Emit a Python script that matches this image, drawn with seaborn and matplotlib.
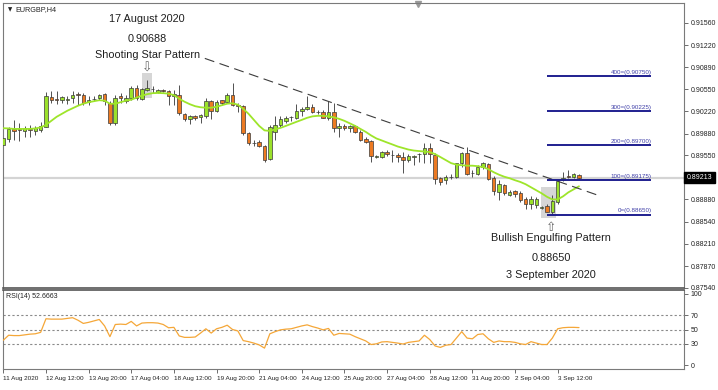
import numpy as np
import pandas as pd
import seaborn as sns
import matplotlib
matplotlib.use("Agg")
import matplotlib.pyplot as plt
from matplotlib.patches import Rectangle
from matplotlib.transforms import blended_transform_factory

# ---------------- data ----------------
opens = [0.89707, 0.89794, 0.89956, 0.89951, 0.89926, 0.89951, 0.89926, 0.89936, 0.89987, 0.90436,
         0.90403, 0.90384, 0.90395, 0.90426, 0.90476, 0.90471, 0.90354, 0.90406, 0.90426, 0.90476,
         0.90345, 0.90039, 0.90456, 0.90375, 0.90415, 0.90579, 0.90406, 0.90548, 0.90559, 0.90507,
         0.90538, 0.90522, 0.90445, 0.90471, 0.90176, 0.90100, 0.90150, 0.90130, 0.90140, 0.90369,
         0.90216, 0.90384, 0.90354, 0.90471, 0.90319, 0.90293, 0.89886, 0.89733, 0.89753, 0.89692,
         0.89488, 0.89910, 0.90013, 0.90074, 0.90130, 0.90115, 0.90216, 0.90253, 0.90283, 0.90206,
         0.90206, 0.90115, 0.90206, 0.89962, 0.90002, 0.89962, 0.89997, 0.89910, 0.89794, 0.89773,
         0.89528, 0.89528, 0.89605, 0.89554, 0.89554, 0.89528, 0.89478, 0.89528, 0.89569, 0.89569,
         0.89666, 0.89554, 0.89207, 0.89172, 0.89222, 0.89228, 0.89427, 0.89580, 0.89284, 0.89274,
         0.89376, 0.89416, 0.89213, 0.88993, 0.89095, 0.88943, 0.89008, 0.88978, 0.88881, 0.88805,
         0.88790, 0.88754, 0.88774, 0.88687, 0.88840, 0.89172, 0.89233, 0.89222, 0.89259]
highs = [0.89834, 0.89987, 0.90089, 0.90039, 0.90002, 0.90013, 0.89997, 0.90059, 0.90513, 0.90522,
         0.90522, 0.90445, 0.90445, 0.90522, 0.90507, 0.90497, 0.90445, 0.90456, 0.90487, 0.90497,
         0.90369, 0.90471, 0.90497, 0.90461, 0.90598, 0.90624, 0.90574, 0.90688, 0.90609, 0.90559,
         0.90559, 0.90548, 0.90548, 0.90624, 0.90191, 0.90166, 0.90166, 0.90181, 0.90421, 0.90395,
         0.90395, 0.90395, 0.90497, 0.90655, 0.90345, 0.90319, 0.89910, 0.89783, 0.89783, 0.89707,
         0.90013, 0.90150, 0.90140, 0.90140, 0.90150, 0.90334, 0.90277, 0.90445, 0.90329, 0.90231,
         0.90242, 0.90369, 0.90345, 0.90039, 0.90028, 0.90013, 0.90013, 0.89936, 0.89834, 0.89783,
         0.89554, 0.89615, 0.89630, 0.89630, 0.89580, 0.89605, 0.89569, 0.89554, 0.89589, 0.89733,
         0.89733, 0.89580, 0.89222, 0.89248, 0.89264, 0.89432, 0.89605, 0.89681, 0.89325, 0.89401,
         0.89452, 0.89437, 0.89233, 0.89172, 0.89121, 0.89019, 0.89029, 0.89008, 0.88917, 0.88927,
         0.88917, 0.88774, 0.88815, 0.88943, 0.89175, 0.89299, 0.89325, 0.89284, 0.89274]
lows = [0.89681, 0.89757, 0.89783, 0.89768, 0.89824, 0.89824, 0.89860, 0.89910, 0.89982, 0.90345,
        0.90329, 0.90345, 0.90334, 0.90345, 0.90319, 0.90319, 0.90319, 0.90369, 0.90384, 0.90319,
        0.90013, 0.90013, 0.90345, 0.90345, 0.90395, 0.90395, 0.90395, 0.90522, 0.90497, 0.90497,
        0.90507, 0.90319, 0.90319, 0.90166, 0.90078, 0.90028, 0.90089, 0.90039, 0.90115, 0.90100,
        0.90201, 0.90319, 0.90345, 0.90293, 0.90211, 0.89860, 0.89707, 0.89692, 0.89681, 0.89452,
        0.89478, 0.89783, 0.89987, 0.90039, 0.90078, 0.90100, 0.90140, 0.90242, 0.90191, 0.90181,
        0.90115, 0.90089, 0.89910, 0.89834, 0.89936, 0.89910, 0.89886, 0.89773, 0.89733, 0.89452,
        0.89503, 0.89503, 0.89539, 0.89452, 0.89452, 0.89283, 0.89452, 0.89401, 0.89452, 0.89437,
        0.89427, 0.89121, 0.89095, 0.89121, 0.89197, 0.89202, 0.89376, 0.89248, 0.89222, 0.89248,
        0.89350, 0.89172, 0.88943, 0.88877, 0.88943, 0.88927, 0.88917, 0.88840, 0.88739, 0.88739,
        0.88754, 0.88733, 0.88683, 0.88650, 0.88815, 0.89161, 0.89213, 0.89213, 0.89197]
closes = [0.89809, 0.89951, 0.89921, 0.89931, 0.89962, 0.89940, 0.89962, 0.89997, 0.90445, 0.90390,
          0.90395, 0.90430, 0.90400, 0.90471, 0.90471, 0.90345, 0.90395, 0.90410, 0.90467, 0.90369,
          0.90039, 0.90421, 0.90421, 0.90421, 0.90579, 0.90421, 0.90559, 0.90571, 0.90563, 0.90538,
          0.90533, 0.90445, 0.90482, 0.90191, 0.90100, 0.90140, 0.90115, 0.90166, 0.90369, 0.90216,
          0.90354, 0.90345, 0.90471, 0.90319, 0.90293, 0.89886, 0.89733, 0.89738, 0.89692, 0.89478,
          0.89987, 0.90013, 0.90100, 0.90115, 0.90125, 0.90216, 0.90253, 0.90283, 0.90211, 0.90211,
          0.90124, 0.90206, 0.89962, 0.90002, 0.89971, 0.89997, 0.89901, 0.89783, 0.89757, 0.89539,
          0.89534, 0.89595, 0.89569, 0.89549, 0.89519, 0.89478, 0.89544, 0.89534, 0.89574, 0.89666,
          0.89569, 0.89197, 0.89146, 0.89222, 0.89228, 0.89427, 0.89580, 0.89274, 0.89279, 0.89376,
          0.89427, 0.89197, 0.89008, 0.89111, 0.88978, 0.88993, 0.88958, 0.88866, 0.88805, 0.88892,
          0.88892, 0.88759, 0.88687, 0.88855, 0.89164, 0.89213, 0.89228, 0.89264, 0.89213]
ma_values = [0.89962, 0.89959, 0.89951, 0.89951, 0.89951, 0.89951, 0.89959, 0.89974, 0.90013, 0.90074,
             0.90135, 0.90181, 0.90227, 0.90265, 0.90303, 0.90334, 0.90357, 0.90372, 0.90387, 0.90380,
             0.90334, 0.90334, 0.90357, 0.90380, 0.90395, 0.90426, 0.90456, 0.90479, 0.90494, 0.90497,
             0.90494, 0.90487, 0.90464, 0.90410, 0.90364, 0.90326, 0.90296, 0.90280, 0.90273, 0.90273,
             0.90288, 0.90311, 0.90334, 0.90341, 0.90319, 0.90257, 0.90181, 0.90089, 0.89997, 0.89929,
             0.89921, 0.89944, 0.89967, 0.89997, 0.90028, 0.90059, 0.90089, 0.90120, 0.90142, 0.90150,
             0.90150, 0.90142, 0.90127, 0.90104, 0.90074, 0.90036, 0.89997, 0.89951, 0.89906, 0.89852,
             0.89806, 0.89776, 0.89745, 0.89715, 0.89684, 0.89661, 0.89638, 0.89623, 0.89615, 0.89608,
             0.89600, 0.89569, 0.89524, 0.89478, 0.89432, 0.89409, 0.89401, 0.89393, 0.89393, 0.89386,
             0.89371, 0.89340, 0.89294, 0.89256, 0.89225, 0.89202, 0.89172, 0.89146, 0.89111, 0.89065,
             0.89019, 0.88973, 0.88920, 0.88881, 0.88881, 0.88927, 0.88988, 0.89034, 0.89080]
rsi_values = [35, 42, 41.5, 41.5, 42.5, 43.5, 44, 46, 65, 64.5,
              64.5, 64.5, 65.5, 66.5, 63, 58.5, 60, 62, 64, 55,
              40, 57, 57.5, 57, 61.3, 55, 59, 59.5, 59.5, 59,
              57, 52.4, 53, 41, 39, 39, 39.5, 45, 51, 45,
              51, 53, 56, 50, 48, 34.5, 33, 31, 28.5, 24,
              44, 47, 49.5, 50.5, 51, 53, 55, 56.5, 54, 52,
              49.5, 51.5, 42, 44.5, 44, 43.5, 40, 37, 34, 29,
              30, 32.6, 33, 32, 31, 29.7, 32, 33, 34, 42,
              36, 27, 25, 28, 29, 38, 47, 38, 37, 43,
              44, 37, 32, 34, 33, 33, 32, 30, 29, 33,
              31, 29, 29, 38, 51, 52.5, 53, 53, 52.6663]

tick_bars = [0, 8, 16, 24, 32, 40, 48, 56, 64, 72, 80, 88, 96, 104]
tick_labels = ["11 Aug 2020", "12 Aug 12:00", "13 Aug 20:00", "17 Aug 04:00", "18 Aug 12:00",
               "19 Aug 20:00", "21 Aug 04:00", "24 Aug 12:00", "25 Aug 20:00", "27 Aug 04:00",
               "28 Aug 12:00", "31 Aug 20:00", "2 Sep 04:00", "3 Sep 12:00"]
price_ticks = [0.91560, 0.91220, 0.90890, 0.90550, 0.90220, 0.89880, 0.89550,
               0.88880, 0.88540, 0.88210, 0.87870, 0.87540]
fib_names = ["0", "100", "200", "300", "400"]
fib_levels = [0.88650, 0.89175, 0.89700, 0.90225, 0.90750]
trend_bars = [37.8, 111.6]
trend_prices = [0.91022, 0.88943]
rsi_levels = [30, 50, 70]
rsi_ticks = [0, 30, 50, 70, 100]

df = pd.DataFrame({"bar": np.arange(len(opens)), "open": opens, "high": highs,
                   "low": lows, "close": closes, "ma": ma_values, "rsi": rsi_values})

# ---------------- style ----------------
sns.set_style("white")
plt.rcParams["font.family"] = ["Liberation Sans", "DejaVu Sans"]

W, H = 718, 390
fig = plt.figure(figsize=(W / 100, H / 100), dpi=100)
fig.patch.set_facecolor("white")

def frac(x0, y0, x1, y1):
    return [x0 / W, 1 - y1 / H, (x1 - x0) / W, (y1 - y0) / H]

ax = fig.add_axes(frac(3, 3, 684, 288))
axr = fig.add_axes(frac(3, 290, 684, 369), sharex=ax)

spine_col = "#7a7a7a"
small = 5.0
xsmall = 4.6

# ---------------- main panel ----------------
ax.axhline(closes[-1], color="#d4d4d4", lw=1.6, zorder=0)

# highlight boxes
ss = 27
ax.add_patch(Rectangle((ss - 1.0, lows[ss] - 0.0010), 1.9, highs[ss] - lows[ss] + 0.0021,
                       facecolor="#d6d6d6", edgecolor="none", zorder=0.5))
be = 103
ax.add_patch(Rectangle((be - 2.1, lows[be] - 0.0005), 2.85, highs[be] - lows[be] + 0.0018,
                       facecolor="#d6d6d6", edgecolor="none", zorder=0.5))

# candles
up = df["close"] > df["open"]
dn = df["close"] < df["open"]
ax.vlines(df["bar"], df["low"], df["high"], color="#505050", lw=0.7, zorder=2)
body_lo = np.minimum(df["open"], df["close"])
body_h = (df["close"] - df["open"]).abs()
ax.bar(df["bar"][up], body_h[up], bottom=body_lo[up], width=0.66,
       color="#9be12b", edgecolor="#3a3a3a", lw=0.5, zorder=3)
ax.bar(df["bar"][dn], body_h[dn], bottom=body_lo[dn], width=0.66,
       color="#ec7a22", edgecolor="#3a3a3a", lw=0.5, zorder=3)
eq = ~(up | dn)
ax.hlines(df["close"][eq], df["bar"][eq] - 0.35, df["bar"][eq] + 0.35, color="#222222", lw=0.8, zorder=3)

# moving average
sns.lineplot(data=df, x="bar", y="ma", ax=ax, color="#9ee52a", lw=1.3, zorder=4)

# trendline
ax.plot(trend_bars, trend_prices, color="#3c3c3c", lw=0.8, dashes=(9, 5), zorder=4)

# fibonacci expansion levels
fib_x0, fib_x1 = 102.0, 121.6
for name, lvl in zip(fib_names, fib_levels):
    ax.hlines(lvl, fib_x0, fib_x1, color="#1f1f8f", lw=1.4, zorder=4)
    ax.text(fib_x1, lvl + 0.00018, f"{name}=({lvl:.5f})", ha="right", va="bottom",
            fontsize=4.5, color="#3f3fa8", zorder=5)

# annotations
txt_kw = dict(ha="center", va="center", fontsize=7.8, color="#1e1e1e", zorder=6)
ax.text(ss, 0.91623, "17 August 2020", **txt_kw)
ax.text(ss, 0.91323, f"{highs[ss]:.5f}", **txt_kw)
ax.text(ss, 0.91072, "Shooting Star Pattern", **txt_kw)
ax.text(ss, 0.90880, "\u21e9", ha="center", va="center", fontsize=9, color="#666666",
        family="DejaVu Sans", zorder=6)
bx = 102.8
ax.text(bx, 0.88455, "\u21e7", ha="center", va="center", fontsize=9, color="#666666",
        family="DejaVu Sans", zorder=6)
ax.text(bx, 0.88296, "Bullish Engulfing Pattern", **txt_kw)
ax.text(bx, 0.87999, f"{lows[be]:.5f}", **txt_kw)
ax.text(bx, 0.87735, "3 September 2020", **txt_kw)

ax.text(0.007, 0.986, "\u25bc", transform=ax.transAxes, fontsize=4, ha="left", va="top",
        color="#222222", family="DejaVu Sans")
ax.text(0.0175, 0.988, "EURGBP,H4", transform=ax.transAxes, fontsize=5.2,
        ha="left", va="top", color="#222222")

ax.set_xlim(-0.06, 127.7)
ax.set_ylim(0.87536, 0.91863)
ax.yaxis.tick_right()
ax.set_yticks(price_ticks)
ax.set_yticklabels([f"{v:.5f}" for v in price_ticks])
ax.tick_params(axis="y", right=True, length=3, width=0.6, color="#555555",
               labelsize=small, pad=2, labelcolor="#222222")
ax.tick_params(axis="x", bottom=False, labelbottom=False)
ax.set_xlabel("")
ax.set_ylabel("")
for s in ax.spines.values():
    s.set_color(spine_col)
    s.set_linewidth(0.8)
ax.spines["bottom"].set_color("#555555")
ax.spines["bottom"].set_linewidth(1.2)

# current price box
trans = blended_transform_factory(ax.transAxes, ax.transData)
ax.text(1.004, closes[-1], f"{closes[-1]:.5f}", transform=trans, ha="left", va="center",
        fontsize=small, color="white",
        bbox=dict(boxstyle="square,pad=0.35", facecolor="black", edgecolor="black"),
        zorder=10, clip_on=False)

# chart shift marker
ax.plot([0.6095], [0.998], marker="v", ms=4, color="#9a9a9a", transform=ax.transAxes,
        clip_on=False)

# ---------------- RSI panel ----------------
for lv in rsi_levels:
    axr.axhline(lv, color="#8a8a8a", lw=0.8, dashes=(2, 2), zorder=1)
sns.lineplot(data=df, x="bar", y="rsi", ax=axr, color="#f5a738", lw=0.9, zorder=3)
axr.text(0.005, 0.96, f"RSI(14) {rsi_values[-1]:.4f}", transform=axr.transAxes,
         fontsize=small, ha="left", va="top", color="#222222")
axr.set_ylim(-5.2, 105.2)
axr.yaxis.tick_right()
axr.set_yticks(rsi_ticks)
axr.set_yticklabels([str(v) for v in rsi_ticks])
axr.tick_params(axis="y", right=True, length=3, width=0.6, color="#555555",
                labelsize=small, pad=2, labelcolor="#222222")
axr.set_xticks(tick_bars)
axr.set_xticklabels(tick_labels, ha="left")
axr.tick_params(axis="x", bottom=True, length=3, width=0.6, color="#555555",
                labelsize=xsmall, pad=2, labelcolor="#222222")
axr.set_xlabel("")
axr.set_ylabel("")
for s in axr.spines.values():
    s.set_color(spine_col)
    s.set_linewidth(0.8)
axr.spines["top"].set_color("#555555")
axr.spines["top"].set_linewidth(1.2)

fig.savefig("out.png", dpi=100)
